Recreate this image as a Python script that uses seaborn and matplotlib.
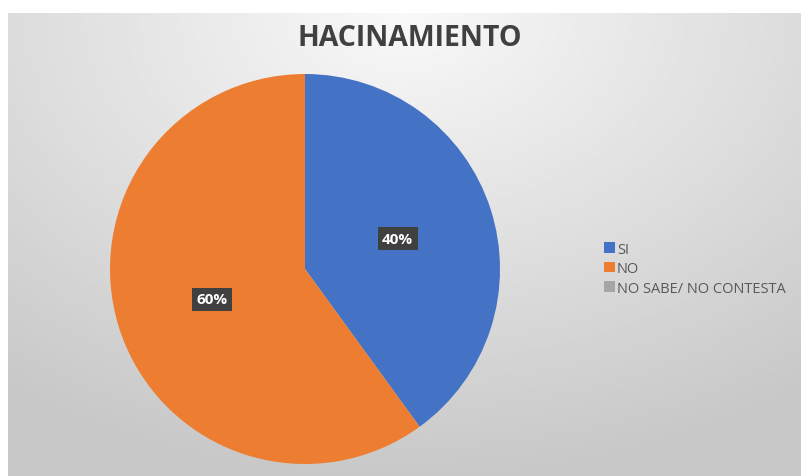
import numpy as np
import matplotlib
matplotlib.use("Agg")
import matplotlib.pyplot as plt
import seaborn as sns
from matplotlib.patches import Patch

categories = ["SI", "NO", "NO SABE/ NO CONTESTA"]
values = [40, 60, 0]
colors = ["#4472C4", "#ED7D31", "#A5A5A5"]
title = "HACINAMIENTO"

sns.set_theme(style="white")
plt.rcParams["font.family"] = ["Open Sans", "DejaVu Sans"]

W, H = 801, 477
fig = plt.figure(figsize=(W / 100, H / 100), dpi=100)
fig.patch.set_facecolor("white")

# background gradient panel
bg = fig.add_axes([8 / W, 0, (W - 8) / W, (H - 14) / H])
yy, xx = np.mgrid[0:1:200j, 0:1:300j]
r = np.sqrt(((xx - 0.5) * 1.2) ** 2 + (yy - 0.0) ** 2)
grad = 0.975 - 0.19 * np.clip(r, 0, 1)
bg.imshow(grad, cmap="gray", vmin=0, vmax=1, aspect="auto", extent=[0, 1, 0, 1], origin="upper")
bg.set_axis_off()

# pie axes
cx, cy, R = 305, 270, 195
ax = fig.add_axes([(cx - R) / W, (H - cy - R) / H, 2 * R / W, 2 * R / H])
wedges, texts, autotexts = ax.pie(
    values, colors=colors, startangle=90, counterclock=False,
    autopct=lambda p: f"{p:.0f}%" if p > 0 else "", pctdistance=0.5,
    wedgeprops=dict(linewidth=0),
    textprops=dict(color="white", fontsize=11, fontweight="bold"),
)
for t in autotexts:
    t.set_bbox(dict(boxstyle="square,pad=0.3", facecolor="#404040", edgecolor="none"))
ax.set_xlim(-1, 1)
ax.set_ylim(-1, 1)
ax.set_aspect("equal")
ax.set_axis_off()

fig.text(410 / W, 1 - 39 / H, title, ha="center", va="center",
         fontsize=20.5, fontweight="bold", color="#404040")

handles = [Patch(facecolor=c, edgecolor="none") for c in colors]
fig.legend(handles, categories, loc="upper left", bbox_to_anchor=(598 / W, 1 - 237 / H),
           frameon=False, fontsize=10.5, labelcolor="#595959",
           handlelength=0.75, handleheight=0.75, handletextpad=0.15, labelspacing=0.3,
           borderaxespad=0)

fig.savefig("out.png", dpi=100)
